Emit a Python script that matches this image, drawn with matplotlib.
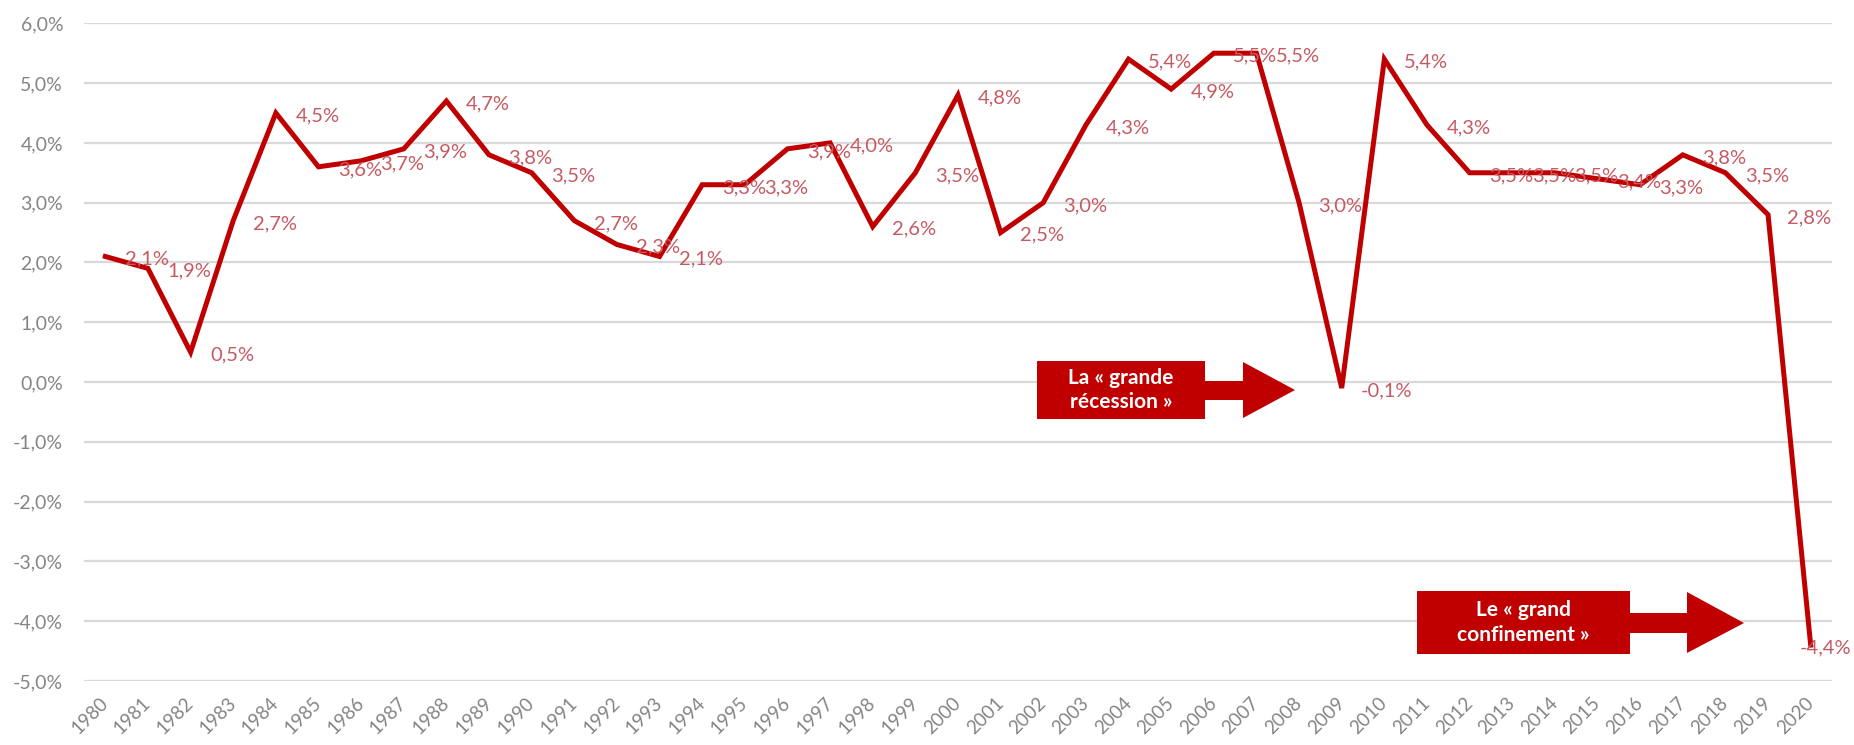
import numpy as np
import matplotlib
matplotlib.use("Agg")
from matplotlib import pyplot as plt
from matplotlib.patches import Polygon

# Croissance du PIB mondial (%), 1980-2020
annees = [str(a) for a in range(1980, 2021)]
croissance = [2.1, 1.9, 0.5, 2.7, 4.5, 3.6, 3.7, 3.9, 4.7, 3.8,
              3.5, 2.7, 2.3, 2.1, 3.3, 3.3, 3.9, 4.0, 2.6, 3.5,
              4.8, 2.5, 3.0, 4.3, 5.4, 4.9, 5.5, 5.5, 3.0, -0.1,
              5.4, 4.3, 3.5, 3.5, 3.5, 3.4, 3.3, 3.8, 3.5, 2.8,
              -4.4]
y_ticks = [-5, -4, -3, -2, -1, 0, 1, 2, 3, 4, 5, 6]
annotations = ["La « grande\nrécession »", "Le « grand\nconfinement »"]

ROUGE = "#C00000"
ROUGE_TXT = "#C65A63"
GRIS = "#858585"

plt.rcParams['font.family'] = ['Lato', 'DejaVu Sans']

W, H = 1854, 745
fig = plt.figure(figsize=(W / 100, H / 100), dpi=100)
ax = fig.add_axes([84 / W, 1 - 681 / H, (1832 - 84) / W, (681 - 23.3) / H])

x = np.arange(len(annees))
ax.plot(x, croissance, color=ROUGE, lw=3.6, solid_joinstyle='miter', zorder=3)

# etiquettes de donnees a droite des points
for i, v in enumerate(croissance):
    dx = 14 if i < len(croissance) - 1 else -8
    ax.annotate(f"{v:.1f}%".replace(".", ","), (x[i], v), xytext=(dx, -2),
                textcoords='offset points', ha='left', va='center',
                fontsize=14.5, color=ROUGE_TXT, zorder=4)

ax.set_xlim(-0.5, len(annees) - 0.5)
ax.set_ylim(-5, 6)
ax.set_yticks(y_ticks)
ax.set_yticklabels([f"{t:.1f}%".replace(".", ",") for t in y_ticks])
ax.set_xticks(x)
ax.set_xticklabels(annees, rotation=45, ha='right', va='center',
                   rotation_mode='anchor')
ax.tick_params(axis='y', length=0, pad=15, labelsize=14, labelcolor=GRIS)
ax.tick_params(axis='x', length=0, pad=14, labelsize=13.5, labelcolor=GRIS)
ax.grid(axis='y', color='#D9D9D9', lw=1.6)
ax.set_axisbelow(True)
for s in ax.spines.values():
    s.set_visible(False)


def fleche(x0, y0, x1, y1, xh, sy0, sy1, hy0, hy1, tip, ty, texte):
    pts = [(x0, y0), (x1, y0), (x1, sy0), (xh, sy0), (xh, hy0), (tip, ty),
           (xh, hy1), (xh, sy1), (x1, sy1), (x1, y1), (x0, y1)]
    pts = [(px / W, 1 - py / H) for px, py in pts]
    fig.patches.append(Polygon(pts, closed=True, facecolor=ROUGE,
                               edgecolor='none', transform=fig.transFigure,
                               zorder=5))
    fig.text((x0 + x1) / 2 / W, 1 - (y0 + y1) / 2 / H, texte, color='white',
             fontweight='bold', fontsize=15, ha='center', va='center',
             linespacing=1.3, zorder=6)


fleche(1037, 361, 1205, 419, 1243, 381, 400, 362, 418, 1295, 390, annotations[0])
fleche(1417, 591, 1630, 654, 1687, 613, 633, 592, 653, 1744, 623, annotations[1])

fig.savefig("out.png", dpi=100, facecolor='white')
